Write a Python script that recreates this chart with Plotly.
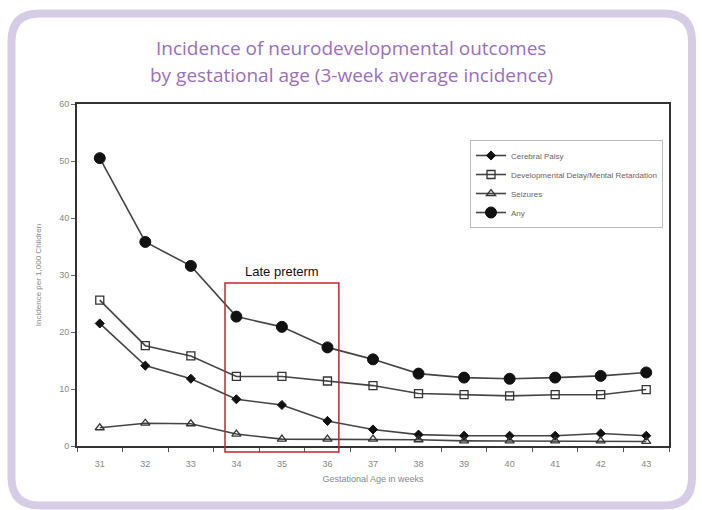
import plotly.graph_objects as go

weeks = [31, 32, 33, 34, 35, 36, 37, 38, 39, 40, 41, 42, 43]
cerebral_palsy = [21.5, 14.1, 11.8, 8.2, 7.2, 4.4, 2.9, 2.0, 1.8, 1.8, 1.8, 2.2, 1.8]
dev_delay = [25.6, 17.6, 15.8, 12.2, 12.2, 11.4, 10.6, 9.2, 9.0, 8.8, 9.0, 9.0, 9.9]
seizures = [3.2, 4.0, 3.9, 2.1, 1.2, 1.2, 1.2, 1.1, 0.9, 0.9, 0.9, 0.9, 0.8]
any_outcome = [50.5, 35.8, 31.6, 22.7, 20.9, 17.3, 15.2, 12.7, 12.0, 11.8, 12.0, 12.3, 12.9]

series_names = ["Cerebral Palsy", "Developmental Delay/Mental Retardation", "Seizures", "Any"]
title_lines = ["Incidence of neurodevelopmental outcomes",
               "by gestational age (3-week average incidence)"]
late_preterm_weeks = [34, 36]

W, H = 702, 510
L, R, T, B = 77, 33, 104, 64
pw, ph = W - L - R, H - T - B

def px(xp):
    return (xp - L) / pw

def py(yp):
    return (H - B - yp) / ph

line_col = "#444444"
fig = go.Figure()
styles = [
    dict(symbol="diamond", size=7, color="#111111", line=dict(color="#111111", width=1)),
    dict(symbol="square-open", size=8, color="#333333", line=dict(color="#333333", width=1.3)),
    dict(symbol="triangle-up-open", size=8, color="#333333", line=dict(color="#333333", width=1.3)),
    dict(symbol="circle", size=11, color="#111111", line=dict(color="#111111", width=1)),
]
for name, vals, mk in zip(series_names, [cerebral_palsy, dev_delay, seizures, any_outcome], styles):
    fig.add_trace(go.Scatter(x=weeks, y=vals, name=name, mode="lines+markers",
                             line=dict(color=line_col, width=1.6), marker=mk, cliponaxis=False))

# Late preterm box
fig.add_shape(type="rect", xref="x", yref="paper",
              x0=late_preterm_weeks[0] - 0.25, x1=late_preterm_weeks[1] + 0.25,
              y0=py(452), y1=py(283), line=dict(color="#c0272d", width=1.5))
fig.add_annotation(x=(late_preterm_weeks[0] + late_preterm_weeks[1]) / 2, xref="x",
                   y=py(271), yref="paper", text="Late preterm", showarrow=False,
                   font=dict(family="Liberation Sans, Arial", size=13, color="#111111"))

# Rounded card border
x0, x1, y0, y1, r = 11.5, 692, 13.5, 505.5, 28
def P(x, y):
    return f"{px(x):.5f},{py(y):.5f}"
path = (f"M {P(x0 + r, y0)} L {P(x1 - r, y0)} Q {P(x1, y0)} {P(x1, y0 + r)} "
        f"L {P(x1, y1 - r)} Q {P(x1, y1)} {P(x1 - r, y1)} "
        f"L {P(x0 + r, y1)} Q {P(x0, y1)} {P(x0, y1 - r)} "
        f"L {P(x0, y0 + r)} Q {P(x0, y0)} {P(x0 + r, y0)} Z")
fig.add_shape(type="path", xref="paper", yref="paper", path=path,
              line=dict(color="#d6cce6", width=8), layer="below")

# Title
for i, t in enumerate(title_lines):
    fig.add_annotation(x=px(W / 2), xref="paper", xanchor="center", y=py(48 + 27 * i), yref="paper",
                       yanchor="middle", text=t, showarrow=False,
                       font=dict(family="Open Sans", size=19, color="#9a70b8"))

fig.update_layout(
    width=W, height=H,
    margin=dict(l=L, r=R, t=T, b=B),
    paper_bgcolor="white", plot_bgcolor="white",
    font=dict(family="Liberation Sans, Arial", size=8, color="#777777"),
    showlegend=True,
    legend=dict(x=px(470), y=py(140), xanchor="left", yanchor="top",
                bgcolor="white", bordercolor="#bbbbbb", borderwidth=1,
                font=dict(size=8, color="#666666"), itemwidth=30),
    xaxis=dict(range=[30.5, 43.5], tickvals=weeks, ticktext=[str(w) for w in weeks],
               ticks="outside", ticklen=8, tickcolor="rgba(0,0,0,0)", showgrid=False, zeroline=False,
               showline=True, linecolor="#333333", linewidth=2, mirror=True,
               minor=dict(tick0=0.5, dtick=1, ticks="outside", ticklen=4, tickcolor="#555555"),
               tickfont=dict(size=9, color="#888888"),
               title=dict(text="Gestational Age in weeks", font=dict(size=9, color="#888888"), standoff=8)),
    yaxis=dict(range=[0, 60], dtick=10, ticks="outside", ticklen=4, tickcolor="#666666",
               showgrid=False, zeroline=False,
               showline=True, linecolor="#333333", linewidth=2, mirror=True,
               tickfont=dict(size=9, color="#888888"),
               title=dict(text="Incidence per 1,000 Children", font=dict(size=8, color="#888888"), standoff=16)),
)

fig.write_html("out.html", config={"displayModeBar": False},
               post_script="document.body.style.margin='0';document.body.style.overflow='hidden';")
